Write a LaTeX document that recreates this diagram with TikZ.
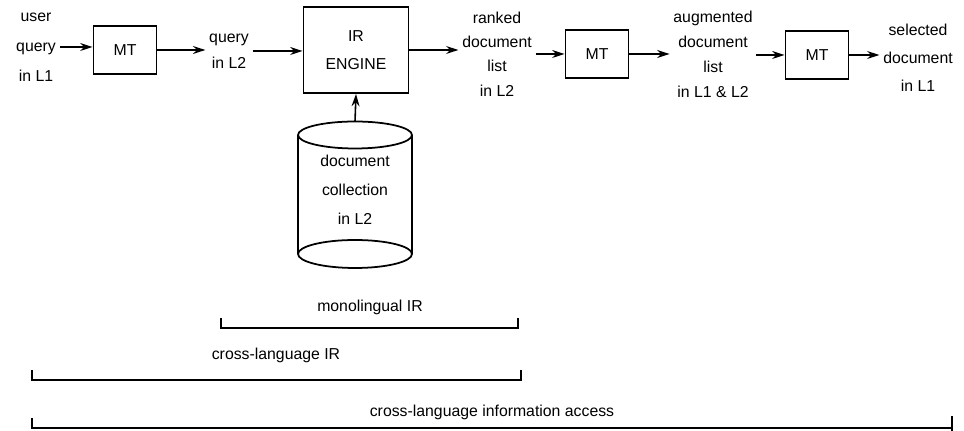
\documentclass[tikz,border=0pt]{standalone}
\usepackage{fontspec}
\setmainfont{Liberation Sans}
\usetikzlibrary{arrows.meta}

\tikzset{
  box/.style={draw, line width=1.1pt, minimum width=1.26cm, minimum height=0.96cm,
    align=center, font=\fontsize{9}{16}\selectfont},
  lbl/.style={align=center, inner sep=2pt, font=\fontsize{9}{#1}\selectfont},
  arr/.style={line width=0.9pt, -{Stealth[length=7pt,width=4.5pt]}},
  brk/.style={line width=1pt}
}

\begin{document}
\begin{tikzpicture}[x=0.02cm, y=-0.02cm]
\useasboundingbox (0,0) rectangle (964,431);
% top row
\node[lbl=17] (user) at (36,47) {user\\query\\in L1};
\node[box] (mt1) at (125,50) {MT};
\node[lbl=15] (qry) at (229,51) {query\\in L2};
\node[box, minimum width=2.1cm, minimum height=1.72cm] (ir) at (356,50) {IR\\ENGINE};
\node[lbl=13.8] (ranked) at (497,54) {ranked\\document\\list\\in L2};
\node[box] (mt2) at (597,54) {MT};
\node[lbl=14.2] (aug) at (713,54) {augmented\\document\\list\\in L1 \& L2};
\node[box] (mt3) at (817,55) {MT};
\node[lbl=16] (sel) at (918,58) {selected\\document\\in L1};

\draw[arr] (user) -- (user -| mt1.west);
\draw[arr] (mt1.east) -- (mt1.east -| qry.west);
\draw[arr] (qry) -- (qry -| ir.west);
\draw[arr] (ir.east) -- (ir.east -| ranked.west);
\draw[arr] (ranked.east |- mt2) -- (mt2.west);
\draw[arr] (mt2) -- (mt2 -| aug.west);
\draw[arr] (aug.east |- mt3) -- (mt3.west);
\draw[arr] (mt3) -- (mt3 -| sel.west);

% document collection
\node[lbl=16.5] (coll) at (355,190) {document\\collection\\in L2};
\draw[line width=1pt] (355,135) ellipse [x radius=1.14cm, y radius=0.27cm];
\draw[line width=1pt] (355,254) ellipse [x radius=1.14cm, y radius=0.28cm];
\draw[line width=1pt] (298,135) -- (298,254) (412,135) -- (412,254);
\coordinate (cyltop) at (355,121.5);
\draw[arr] (cyltop) -- (ir.south);

% scope brackets
\node[lbl=11] (mono) at (370,307) {monolingual IR};
\draw[brk] (221,318) |- (518,328) -- (518,318);
\node[lbl=11] (clir) at (276,355) {cross-language IR};
\draw[brk] (32,370) |- (521,380) -- (521,370);
\node[lbl=11] (clia) at (492,412) {cross-language information access};
\draw[brk] (32,418) |- (952,428);
\draw[brk] (952,416) -- (952,431);
\end{tikzpicture}
\end{document}
